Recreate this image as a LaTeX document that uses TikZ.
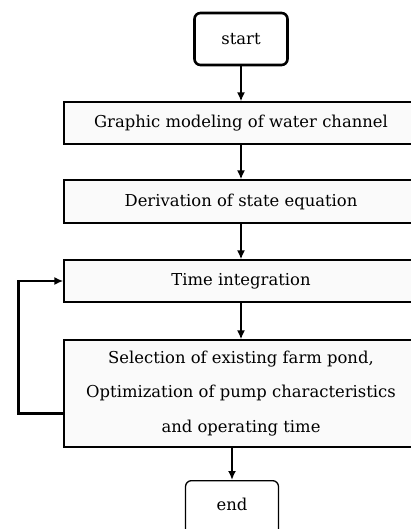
\documentclass[tikz,border=0pt]{standalone}
\usepackage{fontspec}
\setmainfont{DejaVu Serif}
\usetikzlibrary{shapes,arrows,arrows.meta}

\begin{document}
\begin{tikzpicture}[x=1pt,y=-1pt,
		font=\fontsize{16.4}{19}\selectfont,
		stepbox/.style={draw,line width=1.3pt,fill=gray!4,minimum width=354pt,inner sep=0pt},
		endbox/.style={draw,rounded corners=6pt,fill=white,minimum width=93pt},
		flow/.style={-{Latex[length=9pt,width=8pt]},line width=1.7pt}]
		\clip (0,0) rectangle (411,529);
		\def\cx{241}
		% boxes
		\node[endbox,line width=2.6pt,minimum height=52pt] (start) at (\cx,39) {start};
		\node[stepbox,minimum height=42pt] (graph) at (\cx,123) {Graphic modeling of water channel};
		\node[stepbox,minimum height=43pt] (deriv) at (\cx,201.5) {Derivation of state equation};
		\node[stepbox,minimum height=42pt] (timeint) at (\cx,281) {Time integration};
		\node[stepbox,minimum height=107pt,align=center,font=\fontsize{16.4}{34.5}\selectfont] (select) at (\cx,393.5) {Selection of existing farm pond,\\Optimization of pump characteristics\\and operating time};
		\node[endbox,line width=1.3pt,anchor=north,text height=20pt,text depth=40pt,inner ysep=10pt] (end) at (232,480) {end};
		% arrows
		\draw[flow] (start) -- (graph);
		\draw[flow] (graph) -- (deriv);
		\draw[flow] (deriv) -- (timeint);
		\draw[flow] (timeint) -- (select);
		\draw[flow,line width=2.2pt] (select.south -| end.north) -- (end.north);
		\draw[flow,line width=2.4pt] ([yshift=-20pt]select.west) -- ++(-45,0) |- (timeint.west);
\end{tikzpicture}
\end{document}
